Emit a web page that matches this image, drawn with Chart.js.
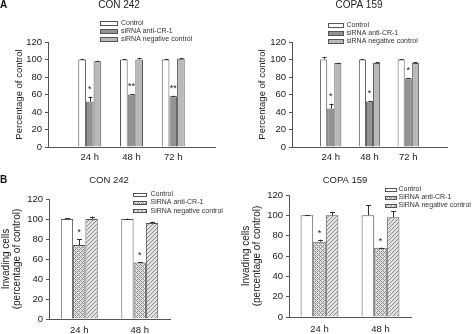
<!DOCTYPE html>
<html>
<head>
<meta charset="utf-8">
<script src="https://cdn.jsdelivr.net/npm/chart.js@4/dist/chart.umd.min.js"></script>
<style>
  html, body { margin: 0; padding: 0; background: #fff; }
  #wrap { position: relative; width: 472px; height: 334px; overflow: hidden; }
  #wrap canvas { position: absolute; left: 0; top: 0; }
  .letter { position: absolute; left: 0; font: bold 10px 'Liberation Sans', Arial, sans-serif; line-height: 10px; color: #111; }
</style>
</head>
<body>
<div id="wrap">
  <canvas id="chartA1" width="472" height="334"></canvas>
  <canvas id="chartA2" width="472" height="334"></canvas>
  <canvas id="chartB1" width="472" height="334"></canvas>
  <canvas id="chartB2" width="472" height="334"></canvas>
  <div class="letter" style="top:0px">A</div>
  <div class="letter" style="top:175px">B</div>
</div>
<script>
const FONT = "'Liberation Sans', Arial, sans-serif";

// categories / tick labels
const timesA = ['24 h', '48 h', '72 h'];
const timesB = ['24 h', '48 h'];
const namesA = ['Control', 'siRNA anti-CR-1', 'siRNA negative control'];
const namesB = ['Control', 'SiRNA anti-CR-1', 'SiRNA negative control'];
const yTicks = [0, 20, 40, 60, 80, 100, 120];

// A - CON 242
const a1Control = [100, 100, 100];
const a1ControlErr = [0.8, 0.4, 0.4];
const a1Anti = [52, 60, 58];
const a1AntiErr = [5.5, 0.6, 0.6];
const a1AntiMarks = ['*', '**', '**'];
const a1Neg = [98, 100, 101];
const a1NegErr = [0.6, 1.8, 0.3];

// A - COPA 159
const a2Control = [100, 100, 100];
const a2ControlErr = [3, 0.5, 0.5];
const a2Anti = [44, 52, 78.5];
const a2AntiErr = [5.5, 0.5, 0.3];
const a2AntiMarks = ['*', '*', '*'];
const a2Neg = [96, 96, 96];
const a2NegErr = [0.3, 1, 0.6];

// B - CON 242
const b1Control = [100, 100];
const b1ControlErr = [1, 0.4];
const b1Anti = [74, 56.5];
const b1AntiErr = [6, 0.6];
const b1AntiMarks = ['*', '*'];
const b1Neg = [100, 96];
const b1NegErr = [2.5, 1.3];

// B - COPA 159
const b2Control = [100, 100];
const b2ControlErr = [0.3, 10];
const b2Anti = [74, 68];
const b2AntiErr = [2, 0.3];
const b2AntiMarks = ['*', '*'];
const b2Neg = [100, 98];
const b2NegErr = [3.5, 6];

function makePattern(kind) {
  const c = document.createElement('canvas');
  c.width = 4;
  c.height = 4;
  const g = c.getContext('2d');
  g.fillStyle = '#e2e2e2';
  g.fillRect(0, 0, 4, 4);
  g.fillStyle = '#8c8c8c';
  for (let x = 0; x < 4; x++) {
    for (let y = 0; y < 4; y++) {
      const d1 = (x + y) % 4 === 0;
      const d2 = ((x - y) + 4) % 4 === 0;
      if (d1 || (kind === 'cross' && d2)) g.fillRect(x, y, 1, 1);
    }
  }
  return g.createPattern(c, 'repeat');
}

const errorBars = {
  id: 'errorBars',
  afterDatasetsDraw(chart, args, opts) {
    const ctx = chart.ctx;
    const yScale = chart.scales.y;
    ctx.save();
    chart.data.datasets.forEach((ds, i) => {
      const meta = chart.getDatasetMeta(i);
      meta.data.forEach((bar, j) => {
        const v = ds.data[j];
        if (v === null || v === undefined) return;
        const top = yScale.getPixelForValue(v + ds.errors[j]);
        const x = Math.round(bar.x) + 0.5;
        ctx.strokeStyle = '#333';
        ctx.lineWidth = 1;
        ctx.beginPath();
        ctx.moveTo(x, bar.y);
        ctx.lineTo(x, top);
        ctx.moveTo(x - opts.cap, Math.round(top) + 0.5);
        ctx.lineTo(x + opts.cap, Math.round(top) + 0.5);
        ctx.stroke();
        if (ds.marks && ds.marks[j]) {
          ctx.fillStyle = '#222';
          ctx.font = opts.starSize + 'px ' + FONT;
          ctx.textAlign = 'center';
          ctx.textBaseline = 'alphabetic';
          ctx.fillText(ds.marks[j], bar.x, top - opts.starGap);
        }
      });
    });
    ctx.restore();
  },
};

const panelDecor = {
  id: 'panelDecor',
  afterDraw(chart, args, opts) {
    const ctx = chart.ctx;
    ctx.save();
    ctx.fillStyle = '#222';
    ctx.font = opts.titleSize + 'px ' + FONT;
    ctx.textAlign = 'center';
    ctx.textBaseline = 'middle';
    ctx.fillText(opts.title, opts.titleX, opts.titleY);

    ctx.font = opts.legendSize + 'px ' + FONT;
    ctx.textAlign = 'left';
    chart.data.datasets.forEach((ds, k) => {
      const y = opts.rows[k];
      const bx = opts.boxX;
      const by = Math.round(y - opts.boxH / 2);
      ctx.fillStyle = ds.backgroundColor;
      ctx.fillRect(bx, by, opts.boxW, opts.boxH);
      ctx.strokeStyle = '#555';
      ctx.lineWidth = 1;
      ctx.strokeRect(bx + 0.5, by + 0.5, opts.boxW - 1, opts.boxH - 1);
      ctx.fillStyle = '#333';
      ctx.fillText(ds.label, opts.textX, y);
    });
    ctx.restore();
  },
};

function buildPanel(id, cfg) {
  const pad = (arr) => (cfg.padded ? [null, ...arr, null] : arr);
  const labels = cfg.padded ? ['', ...cfg.labels, ''] : cfg.labels;
  const datasets = cfg.series.map((s, k) => ({
    label: cfg.names[k],
    data: pad(s.values),
    errors: pad(s.errors),
    marks: s.marks ? pad(s.marks) : null,
    backgroundColor: cfg.fills[k],
    borderColor: '#555',
    borderWidth: 1,
    categoryPercentage: cfg.catPct,
    barPercentage: 1,
  }));

  return new Chart(document.getElementById(id).getContext('2d'), {
    type: 'bar',
    data: { labels, datasets },
    options: {
      responsive: false,
      animation: false,
      events: [],
      layout: { padding: cfg.padding },
      plugins: {
        legend: { display: false },
        tooltip: { enabled: false },
        title: { display: false },
        errorBars: { cap: cfg.cap, starGap: cfg.starGap, starSize: cfg.starSize },
        panelDecor: cfg.decor,
      },
      scales: {
        x: {
          offset: !cfg.padded,
          grid: { display: false, drawTicks: false, tickLength: 0 },
          border: { display: true, color: '#555', width: 1 },
          ticks: {
            color: '#222',
            padding: cfg.xPad,
            font: { family: FONT, size: cfg.tickSize },
          },
          afterFit(scale) {
            scale.height = cfg.xHeight;
          },
        },
        y: {
          min: 0,
          max: 120,
          afterBuildTicks(scale) {
            scale.ticks = yTicks.map((v) => ({ value: v }));
          },
          grid: { drawOnChartArea: false, drawTicks: true, tickLength: 3, color: '#555' },
          border: { display: true, color: '#555', width: 1 },
          ticks: {
            color: '#222',
            padding: 3,
            font: { family: FONT, size: cfg.tickSize },
          },
          title: {
            display: true,
            text: cfg.yTitle,
            color: '#222',
            font: { family: FONT, size: cfg.yTitleSize, lineHeight: cfg.yTitleLH },
            padding: { top: cfg.yTitlePad, bottom: 0 },
          },
          afterFit(scale) {
            scale.width = cfg.yWidth;
          },
        },
      },
    },
    plugins: [errorBars, panelDecor],
  });
}

const fillsA = ['#ffffff', '#939393', '#b9b9b9'];
const fillsB = ['#ffffff', makePattern('cross'), makePattern('diag')];

buildPanel('chartA1', {
  padded: true,
  labels: timesA,
  names: namesA,
  fills: fillsA,
  catPct: 0.55,
  series: [
    { values: a1Control, errors: a1ControlErr },
    { values: a1Anti, errors: a1AntiErr, marks: a1AntiMarks },
    { values: a1Neg, errors: a1NegErr },
  ],
  padding: { left: 0, right: 257, top: 42, bottom: 167 },
  yWidth: 48,
  xHeight: 20,
  xPad: 5,
  tickSize: 9.5,
  yTitle: 'Percentage of control',
  yTitleSize: 9.5,
  yTitleLH: 1.2,
  yTitlePad: 14,
  cap: 2,
  starGap: 5,
  starSize: 9,
  decor: {
    title: 'CON 242', titleX: 119, titleY: 5.5, titleSize: 10,
    legendSize: 7, boxX: 100, boxW: 18, boxH: 5, textX: 121, rows: [23, 31, 39],
  },
});

buildPanel('chartA2', {
  padded: true,
  labels: timesA,
  names: namesA,
  fills: fillsA,
  catPct: 0.55,
  series: [
    { values: a2Control, errors: a2ControlErr },
    { values: a2Anti, errors: a2AntiErr, marks: a2AntiMarks },
    { values: a2Neg, errors: a2NegErr },
  ],
  padding: { left: 236, right: 25, top: 42, bottom: 167 },
  yWidth: 56,
  xHeight: 20,
  xPad: 5,
  tickSize: 9.5,
  yTitle: 'Percentage of control',
  yTitleSize: 9.5,
  yTitleLH: 1.2,
  yTitlePad: 21,
  cap: 2,
  starGap: 5,
  starSize: 9,
  decor: {
    title: 'COPA 159', titleX: 359, titleY: 5.5, titleSize: 10,
    legendSize: 7, boxX: 328, boxW: 16, boxH: 5, textX: 346.5, rows: [25, 33, 41],
  },
});

buildPanel('chartB1', {
  padded: false,
  labels: timesB,
  names: namesB,
  fills: fillsB,
  catPct: 0.61,
  series: [
    { values: b1Control, errors: b1ControlErr },
    { values: b1Anti, errors: b1AntiErr, marks: b1AntiMarks },
    { values: b1Neg, errors: b1NegErr },
  ],
  padding: { left: 0, right: 302, top: 199, bottom: 0 },
  yWidth: 49,
  xHeight: 15,
  xPad: 6,
  tickSize: 9.5,
  yTitle: ['Invading cells', '(percentage of control)'],
  yTitleSize: 10,
  yTitleLH: 1.1,
  yTitlePad: 0.5,
  cap: 2.5,
  starGap: 4,
  starSize: 9,
  decor: {
    title: 'CON 242', titleX: 109, titleY: 180.5, titleSize: 9.5,
    legendSize: 7, boxX: 133, boxW: 14, boxH: 4, textX: 150.5, rows: [194.5, 202.5, 211],
  },
});

buildPanel('chartB2', {
  padded: false,
  labels: timesB,
  names: namesB,
  fills: fillsB,
  catPct: 0.62,
  series: [
    { values: b2Control, errors: b2ControlErr },
    { values: b2Anti, errors: b2AntiErr, marks: b2AntiMarks },
    { values: b2Neg, errors: b2NegErr },
  ],
  padding: { left: 236, right: 61, top: 195, bottom: 0 },
  yWidth: 53,
  xHeight: 17,
  xPad: 7,
  tickSize: 9.5,
  yTitle: ['Invading cells', '(percentage of control)'],
  yTitleSize: 10,
  yTitleLH: 1.1,
  yTitlePad: 4.5,
  cap: 2.5,
  starGap: 4,
  starSize: 9,
  decor: {
    title: 'COPA 159', titleX: 345, titleY: 180.5, titleSize: 9.5,
    legendSize: 7, boxX: 385, boxW: 12, boxH: 4, textX: 398.5, rows: [189.5, 197.5, 205.5],
  },
});
</script>
</body>
</html>
